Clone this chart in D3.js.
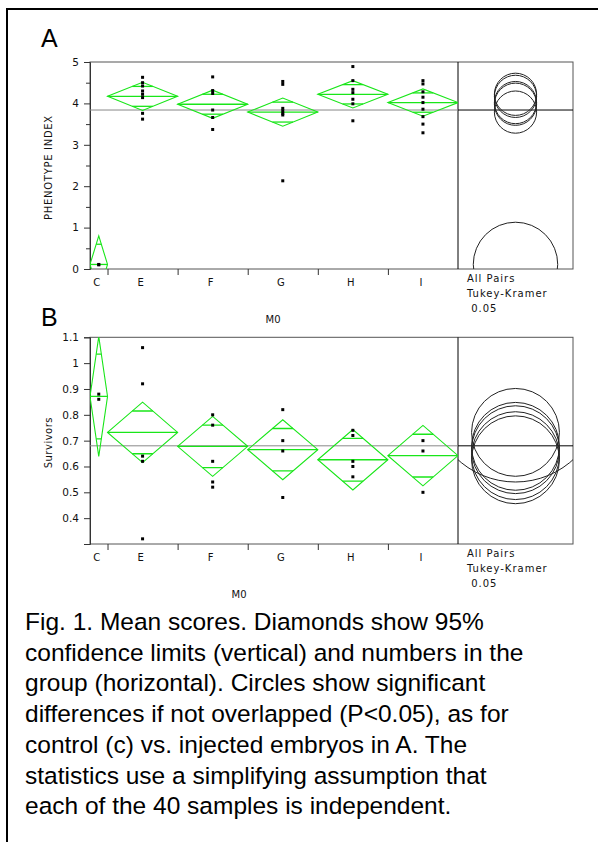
<!DOCTYPE html>
<html>
<head>
<meta charset="utf-8">
<script src="https://cdn.jsdelivr.net/npm/d3@7"></script>
<style>
  body { margin: 0; background: #fff; }
  svg { display: block; }
  .lab { font-family: "DejaVu Sans", sans-serif; font-size: 10px; fill: #111; }
  .tick text { font-family: "DejaVu Sans", sans-serif; font-size: 10.5px; fill: #111; }
  .caption { font-family: "Liberation Sans", Arial, sans-serif; font-size: 24.5px; fill: #000; }
</style>
</head>
<body>
<div id="chart"></div>
<script>
// groups along M0 and their sample counts (bar width ~ n)
const groups = ["C", "E", "F", "G", "H", "I"];
const groupN = [2, 8, 8, 8, 8, 8];

// panel A: phenotype index
const phenoPoints = [
  [0.1, 0.11],
  [4.63, 4.5, 4.42, 4.3, 4.22, 4.14, 3.76, 3.62],
  [4.64, 4.31, 4.24, 3.84, 3.66, 3.37],
  [4.53, 4.46, 3.88, 3.82, 3.76, 3.72, 2.13],
  [4.89, 4.55, 4.34, 4.26, 4.1, 3.99, 3.58],
  [4.55, 4.47, 4.28, 4.15, 4.02, 3.86, 3.68, 3.5, 3.29]
];
const phenoMean = [0.11, 4.17, 3.98, 3.79, 4.22, 4.02];
const phenoCI = [0.69, 0.34, 0.34, 0.34, 0.33, 0.33];
const phenoCircleR = [1.02, 0.51, 0.51, 0.51, 0.51, 0.51];
const phenoGrand = 3.84;
const phenoTicks = [0, 1, 2, 3, 4, 5];
const phenoMinor = [0.5, 1.5, 2.5, 3.5, 4.5];

// panel B: survivors
const survPoints = [
  [0.88, 0.86],
  [1.06, 0.92, 0.64, 0.62, 0.32],
  [0.8, 0.76, 0.62, 0.54, 0.52],
  [0.82, 0.7, 0.66, 0.48],
  [0.74, 0.72, 0.62, 0.6, 0.56],
  [0.7, 0.66, 0.5]
];
const survMean = [0.871, 0.732, 0.678, 0.665, 0.626, 0.642];
const survCI = [0.232, 0.117, 0.116, 0.116, 0.117, 0.117];
const survCircleR = [0.331, 0.17, 0.17, 0.17, 0.17, 0.17];
const survGrand = 0.68;
const survTicks = [0.4, 0.5, 0.6, 0.7, 0.8, 0.9, 1, 1.1];

const caption = [
  "Fig. 1. Mean scores. Diamonds show 95%",
  "confidence limits (vertical) and numbers in the",
  "group (horizontal). Circles show significant",
  "differences if not overlapped (P<0.05), as for",
  "control (c) vs. injected embryos in A. The",
  "statistics use a simplifying assumption that",
  "each of the 40 samples is independent."
];

const W = 598, H = 842;
const green = "#19e619";
const svg = d3.select("#chart").append("svg").attr("width", W).attr("height", H);

// outer frame (left + top)
svg.append("path").attr("d", `M7,842V9H598`).attr("fill", "none")
  .attr("stroke", "#000").attr("stroke-width", 2);

const left = 90, mainRight = 458, boxRight = 573;
const x = d3.scaleLinear().domain([0, d3.sum(groupN)]).range([left, mainRight]);
const cum = d3.cumsum([0].concat(groupN));

function drawPanel(o) {
  const g = svg.append("g");
  const y = d3.scaleLinear().domain(o.domain).range([o.bottom, o.top]);
  const id = o.id;

  const defs = g.append("defs");
  defs.append("clipPath").attr("id", id + "main").append("rect")
    .attr("x", left).attr("y", o.top).attr("width", mainRight - left).attr("height", o.bottom - o.top);
  defs.append("clipPath").attr("id", id + "box").append("rect")
    .attr("x", mainRight).attr("y", o.top).attr("width", boxRight - mainRight).attr("height", o.bottom - o.top);

  // frame
  g.append("rect").attr("x", left).attr("y", o.top)
    .attr("width", boxRight - left).attr("height", o.bottom - o.top)
    .attr("fill", "none").attr("stroke", "#555");
  g.append("line").attr("x1", mainRight).attr("x2", mainRight)
    .attr("y1", o.top).attr("y2", o.bottom).attr("stroke", "#000");

  // y axis
  g.append("g").attr("transform", `translate(${left},0)`)
    .call(d3.axisLeft(y).tickValues(o.ticks).tickSize(6).tickPadding(5)
      .tickFormat(d => d3.format("")(d)));
  if (o.minor) {
    g.append("g").attr("transform", `translate(${left},0)`)
      .call(d3.axisLeft(y).tickValues(o.minor).tickSize(4).tickFormat(""))
      .select(".domain").remove();
  }
  g.selectAll(".domain").attr("stroke", "#333");
  g.selectAll(".tick line").attr("stroke", "#333");

  // x axis: ticks at group boundaries
  const xa = g.append("g").attr("transform", `translate(0,${o.bottom})`)
    .call(d3.axisBottom(x).tickValues(cum.slice(1, -1)).tickSize(6).tickFormat(""));
  xa.select(".domain").remove();
  xa.selectAll(".tick line").attr("stroke", "#333");
  g.selectAll(".xlab").data(groups).enter().append("text")
    .attr("class", "lab")
    .attr("x", (d, i) => x((cum[i] + cum[i + 1]) / 2) - 2)
    .attr("y", o.bottom + 17)
    .attr("text-anchor", "middle")
    .text(d => d);

  // grand mean
  g.append("line").attr("x1", left).attr("x2", mainRight)
    .attr("y1", y(o.grand)).attr("y2", y(o.grand)).attr("stroke", "#888");
  g.append("line").attr("x1", mainRight).attr("x2", boxRight)
    .attr("y1", y(o.grand)).attr("y2", y(o.grand)).attr("stroke", "#000");

  // diamonds
  const dg = g.append("g").attr("clip-path", `url(#${id}main)`);
  groups.forEach((grp, i) => {
    const x0 = x(cum[i]), x1 = x(cum[i + 1]), xc = (x0 + x1) / 2, hw = (x1 - x0) / 2;
    const m = o.mean[i], h = o.ci[i];
    dg.append("path")
      .attr("d", `M${x0},${y(m)}L${xc},${y(m + h)}L${x1},${y(m)}L${xc},${y(m - h)}Z`)
      .attr("fill", "none").attr("stroke", green).attr("stroke-width", 1.1);
    dg.append("line").attr("x1", x0).attr("x2", x1)
      .attr("y1", y(m)).attr("y2", y(m)).attr("stroke", green).attr("stroke-width", 1.3);
    const ow = hw * (1 - Math.SQRT1_2);
    [1, -1].forEach(s => {
      const yy = y(m + s * h * Math.SQRT1_2);
      dg.append("line").attr("x1", xc - ow).attr("x2", xc + ow)
        .attr("y1", yy).attr("y2", yy).attr("stroke", green).attr("stroke-width", 1.3);
    });
    dg.selectAll(null).data(o.points[i]).enter().append("rect")
      .attr("x", xc - 1.5).attr("y", d => y(d) - 1.5)
      .attr("width", 3).attr("height", 3).attr("fill", "#000");
  });

  // comparison circles
  const cg = g.append("g").attr("clip-path", `url(#${id}box)`);
  const cx = (mainRight + boxRight) / 2;
  cg.selectAll("circle").data(o.mean).enter().append("circle")
    .attr("cx", cx).attr("cy", d => y(d))
    .attr("r", (d, i) => Math.abs(y(d) - y(d + o.circleR[i])))
    .attr("fill", "none").attr("stroke", "#222").attr("stroke-width", 1);

  // texts
  g.append("text").attr("class", "lab")
    .attr("transform", `translate(${o.ylabX},${(o.top + o.bottom) / 2 + 2}) rotate(-90)`)
    .attr("text-anchor", "middle").style("letter-spacing", o.ylabSpacing)
    .text(o.ylab);
  ["All Pairs", "Tukey-Kramer", " 0.05"].forEach((t, k) => {
    g.append("text").attr("class", "lab").attr("x", 467)
      .attr("y", o.bottom + 13 + k * 15).style("letter-spacing", "1px")
      .attr("xml:space", "preserve").text(t);
  });
  g.append("text").attr("class", "lab").attr("x", o.m0X).attr("y", o.m0Y)
    .attr("text-anchor", "middle").text("M0");
  g.append("text").attr("x", 41).attr("y", o.letterY)
    .style("font-family", "Liberation Sans, Arial, sans-serif").style("font-size", "25px")
    .text(o.letter);
}

drawPanel({
  id: "a", domain: [0, 5], top: 62, bottom: 269, ticks: phenoTicks, minor: phenoMinor,
  points: phenoPoints, mean: phenoMean, ci: phenoCI, circleR: phenoCircleR, grand: phenoGrand,
  ylab: "PHENOTYPE INDEX", ylabX: 51.5, ylabSpacing: "0.7px",
  m0X: 273, m0Y: 322.5, letter: "A", letterY: 47
});
drawPanel({
  id: "b", domain: [0.3, 1.1], top: 337.3, bottom: 544, ticks: survTicks, minor: null,
  points: survPoints, mean: survMean, ci: survCI, circleR: survCircleR, grand: survGrand,
  ylab: "Survivors", ylabX: 52, ylabSpacing: "0.5px",
  m0X: 239, m0Y: 597.5, letter: "B", letterY: 325.5
});

// caption
svg.append("g").selectAll("text").data(caption).enter().append("text")
  .attr("class", "caption").attr("x", 25)
  .attr("y", (d, i) => 630 + i * 30.7)
  .text(d => d);
</script>
</body>
</html>
